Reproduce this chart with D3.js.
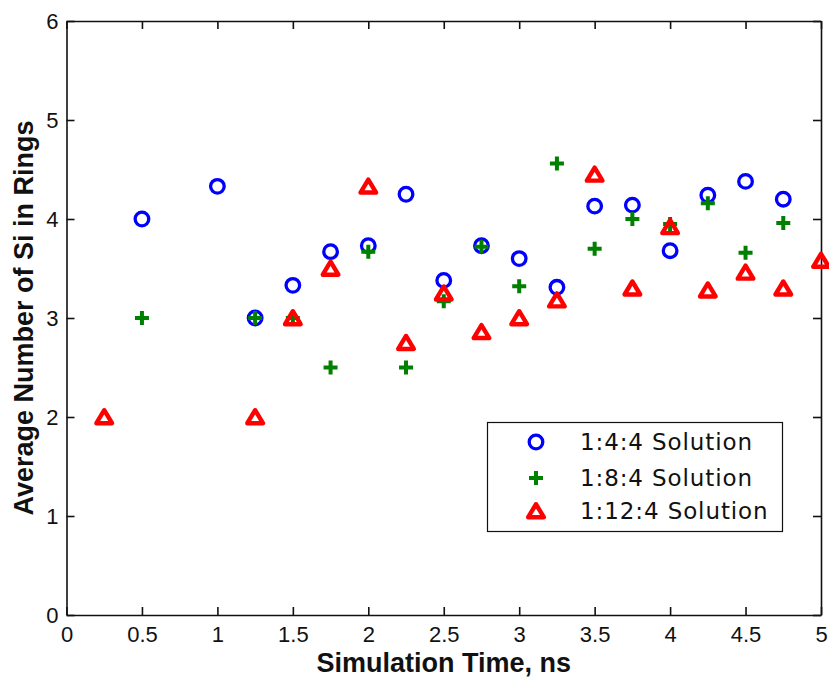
<!DOCTYPE html>
<html>
<head>
<meta charset="utf-8">
<script src="https://cdn.jsdelivr.net/npm/d3@7"></script>
<style>
  html, body { margin: 0; padding: 0; background: #fff; }
  svg { display: block; }
</style>
</head>
<body>
<svg id="chart" width="829" height="679"></svg>
<script>
// ---- data ----
const timesBlue  = [0.5, 1, 1.25, 1.5, 1.75, 2, 2.25, 2.5, 2.75, 3, 3.25, 3.5, 3.75, 4, 4.25, 4.5, 4.75];
const valuesBlue = [4.0, 4.33, 3.0, 3.33, 3.67, 3.73, 4.25, 3.38, 3.73, 3.6, 3.31, 4.13, 4.14, 3.68, 4.24, 4.38, 4.2];

const timesGreen  = [0.5, 1.25, 1.5, 1.75, 2, 2.25, 2.5, 2.75, 3, 3.25, 3.5, 3.75, 4, 4.25, 4.5, 4.75];
const valuesGreen = [3.0, 3.0, 3.0, 2.5, 3.67, 2.5, 3.17, 3.72, 3.32, 4.56, 3.7, 4.0, 3.95, 4.16, 3.66, 3.96];

const timesRed  = [0.25, 1.25, 1.5, 1.75, 2, 2.25, 2.5, 2.75, 3, 3.25, 3.5, 3.75, 4, 4.25, 4.5, 4.75, 5];
const valuesRed = [2.0, 2.0, 3.0, 3.5, 4.33, 2.75, 3.25, 2.86, 3.0, 3.18, 4.45, 3.3, 3.92, 3.28, 3.46, 3.3, 3.58];

const seriesNames = ["1:4:4 Solution", "1:8:4 Solution", "1:12:4 Solution"];
const xTicks = [0, 0.5, 1, 1.5, 2, 2.5, 3, 3.5, 4, 4.5, 5];
const yTicks = [0, 1, 2, 3, 4, 5, 6];
const xLabel = "Simulation Time, ns";
const yLabel = "Average Number of Si in Rings";

// ---- layout ----
const svg = d3.select("#chart");
const L = 66.5, R = 821, T = 21, B = 615;
const x = d3.scaleLinear().domain([0, 5]).range([L, R]);
const y = d3.scaleLinear().domain([0, 6]).range([B, T]);

const tickFont = "'Liberation Sans', Arial, sans-serif";

function styleAxis(g) {
  g.selectAll("path.domain").attr("stroke", "#111").attr("stroke-width", 1.6);
  g.selectAll(".tick line").attr("stroke", "#111").attr("stroke-width", 1.6);
  g.selectAll(".tick text").attr("fill", "#111").style("font-family", tickFont).style("font-size", "22px");
}

// bottom
svg.append("g").attr("transform", `translate(0,${B})`)
  .call(d3.axisBottom(x).tickValues(xTicks).tickFormat(d => String(d)).tickSizeInner(-8).tickSizeOuter(0).tickPadding(11))
  .call(styleAxis);
// top
svg.append("g").attr("transform", `translate(0,${T})`)
  .call(d3.axisTop(x).tickValues(xTicks).tickFormat("").tickSizeInner(-8).tickSizeOuter(0))
  .call(styleAxis);
// left
svg.append("g").attr("transform", `translate(${L},0)`)
  .call(d3.axisLeft(y).tickValues(yTicks).tickFormat(d => String(d)).tickSizeInner(-8).tickSizeOuter(0).tickPadding(8))
  .call(styleAxis);
// right
svg.append("g").attr("transform", `translate(${R},0)`)
  .call(d3.axisRight(y).tickValues(yTicks).tickFormat("").tickSizeInner(-8).tickSizeOuter(0))
  .call(styleAxis);

// ---- markers ----
const blue = "#0000ff", green = "#008000", red = "#ff0000";
function drawCircle(g, cx, cy) {
  g.append("circle").attr("cx", cx).attr("cy", cy).attr("r", 6.8)
    .attr("fill", "none").attr("stroke", blue).attr("stroke-width", 3.3);
}
function drawPlus(g, cx, cy) {
  g.append("path").attr("d", `M${cx-7},${cy}H${cx+7}M${cx},${cy-7}V${cy+7}`)
    .attr("fill", "none").attr("stroke", green).attr("stroke-width", 4);
}
function drawTri(g, cx, cy) {
  g.append("path").attr("d", `M${cx},${cy-6.8}L${cx+7.8},${cy+6.2}L${cx-7.8},${cy+6.2}Z`)
    .attr("fill", "none").attr("stroke", red).attr("stroke-width", 4.4).attr("stroke-linejoin", "round");
}

const marks = svg.append("g");
const gb = marks.append("g"), gg = marks.append("g"), gr = marks.append("g");
timesBlue.forEach((t, i) => drawCircle(gb, x(t), y(valuesBlue[i])));
timesGreen.forEach((t, i) => drawPlus(gg, x(t), y(valuesGreen[i])));
timesRed.forEach((t, i) => drawTri(gr, x(t), y(valuesRed[i])));

// ---- axis labels ----
const labelFont = "'Liberation Sans', Arial, sans-serif";
svg.append("text").attr("x", (L + R) / 2).attr("y", 672)
  .attr("text-anchor", "middle").style("font-family", labelFont).style("font-size", "27px")
  .style("font-weight", "bold").attr("fill", "#111").text(xLabel);
svg.append("text").attr("transform", `translate(33,${(T + B) / 2}) rotate(-90)`)
  .attr("text-anchor", "middle").style("font-family", labelFont).style("font-size", "27px")
  .style("font-weight", "bold").attr("fill", "#111").text(yLabel);

// ---- legend ----
const leg = svg.append("g");
leg.append("rect").attr("x", 487.5).attr("y", 422.5).attr("width", 295).attr("height", 109)
  .attr("fill", "#fff").attr("stroke", "#111").attr("stroke-width", 1.2);
const rowsY = [442, 478, 511];
drawCircle(leg, 536, rowsY[0]);
drawPlus(leg, 536, rowsY[1]);
drawTri(leg, 536, rowsY[2]);
seriesNames.forEach((name, i) => {
  leg.append("text").attr("x", 580).attr("y", rowsY[i]).attr("dy", "0.36em")
    .style("font-family", "'DejaVu Sans', sans-serif").style("font-size", "23px")
    .style("letter-spacing", "0.9px").attr("fill", "#111").text(name);
});
</script>
</body>
</html>
